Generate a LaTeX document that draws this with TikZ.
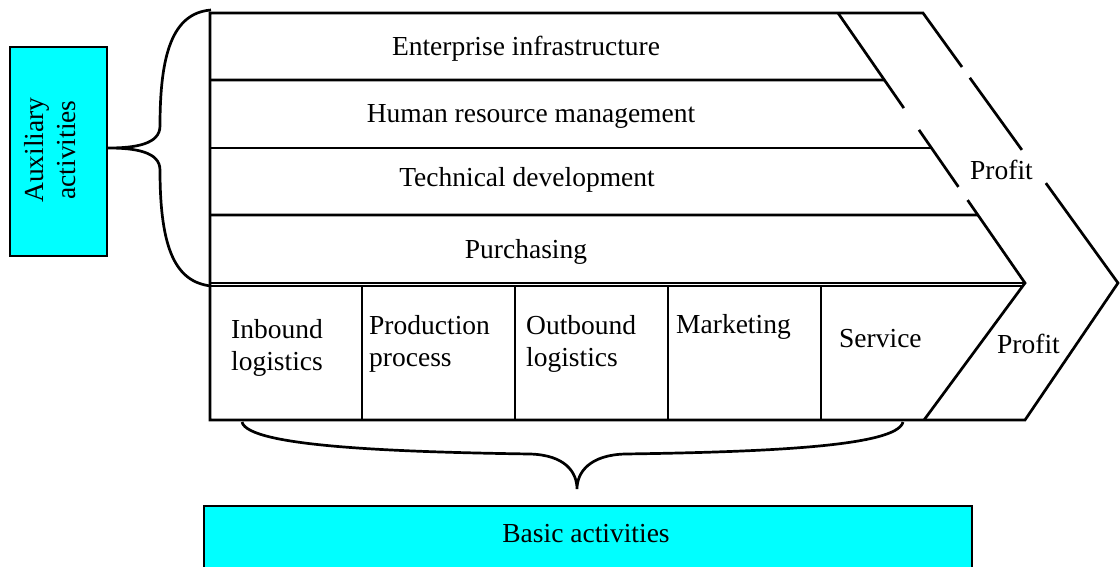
\documentclass[tikz,border=0pt]{standalone}
\usepackage{fontspec}
\setmainfont{Liberation Serif}
\usetikzlibrary{calc}
\definecolor{cyanc}{HTML}{00FFFF}
\newcommand{\fsz}{\fontsize{27.5}{32.5}\selectfont}
\begin{document}
\begin{tikzpicture}[x=1pt,y=-1pt,
  ln/.style={line width=2.7pt},
  thinln/.style={line width=1.5pt},
  lbl/.style={inner sep=0pt,font=\fsz},
  cyanbox/.style={fill=cyanc,draw=black,line width=2.2pt,inner sep=0pt}]
\clip (0,0) rectangle (1120,566);
% key points
\coordinate (iT) at (838,13);
\coordinate (iP) at (1025,283);
\coordinate (iB) at (924,420);
\coordinate (oT) at (923,13);
\coordinate (oP) at (1118,283);
\coordinate (oB) at (1025,420);
\coordinate (TL) at (210,13);
\coordinate (BL) at (210,420);
\coordinate (r1) at ($(iT)!0.248!(iP)$);
\coordinate (r2) at ($(iT)!0.5!(iP)$);
\coordinate (r3) at ($(iT)!0.748!(iP)$);
% cyan boxes
\node[cyanbox,minimum width=97pt,minimum height=209pt] (auxbox) at (58.5,151.5) {};
\node[cyanbox,minimum width=768pt,minimum height=80pt,anchor=north west] (basbox) at (203,505) {};
% outline with gaps
\draw[ln] ($(oT)!0.63!(oP)$) -- (oP) -- (oB) -- (BL) -- (TL) -- (oT) -- ($(oT)!0.2!(oP)$);
\draw[ln] ($(oT)!0.24!(oP)$) -- ($(oT)!0.507!(oP)$);
\draw[ln] (iT) -- ($(iT)!0.352!(iP)$);
\draw[ln] ($(iT)!0.433!(iP)$) -- ($(iT)!0.644!(iP)$);
\draw[ln] ($(iT)!0.693!(iP)$) -- (iP) -- (iB);
% rows
\draw[ln] (210,80) -- (r1);
\draw[ln] (210,148) -- (r2);
\draw[ln] (210,215) -- (r3);
\draw[thinln] (210,283) -- (iP);
\draw[thinln] (210,286) -- (1023,286);
% columns
\foreach \cx in {362,515,668,821} \draw[ln] (\cx,286) -- (\cx,420);
% braces
\draw[ln] (211,10) .. controls (172,13) and (160,55) .. (160,126)
  .. controls (160,144) and (136,148) .. (auxbox.east |- 0,148)
  .. controls (136,148) and (160,152) .. (160,170)
  .. controls (160,250) and (176,282) .. (211,286);
\draw[ln] (242,422) .. controls (248,447) and (400,452) .. (530,454)
  .. controls (565,455) and (577,472) .. (577,489)
  .. controls (577,472) and (590,455) .. (625,454)
  .. controls (760,452) and (897,447) .. (903,422);
% texts
\node[lbl,anchor=base] (ent) at (526,55) {Enterprise infrastructure};
\node[lbl,anchor=base] (hrm) at (531,122) {Human resource management};
\node[lbl,anchor=base] (tec) at (527,186) {Technical development};
\node[lbl,anchor=base] (pur) at (526,258) {Purchasing};
\node[lbl,anchor=north west,align=left] (inb) at (231,318) {\rule{0pt}{20pt}Inbound\\logistics};
\node[lbl,anchor=north west,align=left] (pro) at (369,314) {\rule{0pt}{20pt}Production\\process};
\node[lbl,anchor=north west,align=left] (outb) at (526,314) {\rule{0pt}{20pt}Outbound\\logistics};
\node[lbl,anchor=base west] (mkt) at (676,333) {Marketing};
\node[lbl,anchor=base west] (srv) at (839,347) {Service};
\node[lbl,anchor=base west] (pf1) at (970,179) {Profit};
\node[lbl,anchor=base west] (pf2) at (997,353) {Profit};
\node[lbl,anchor=base] (bas) at (586,542) {Basic activities};
\node[lbl,rotate=90,align=center] (aux) at (50,150) {Auxiliary\\activities};
\end{tikzpicture}
\end{document}
